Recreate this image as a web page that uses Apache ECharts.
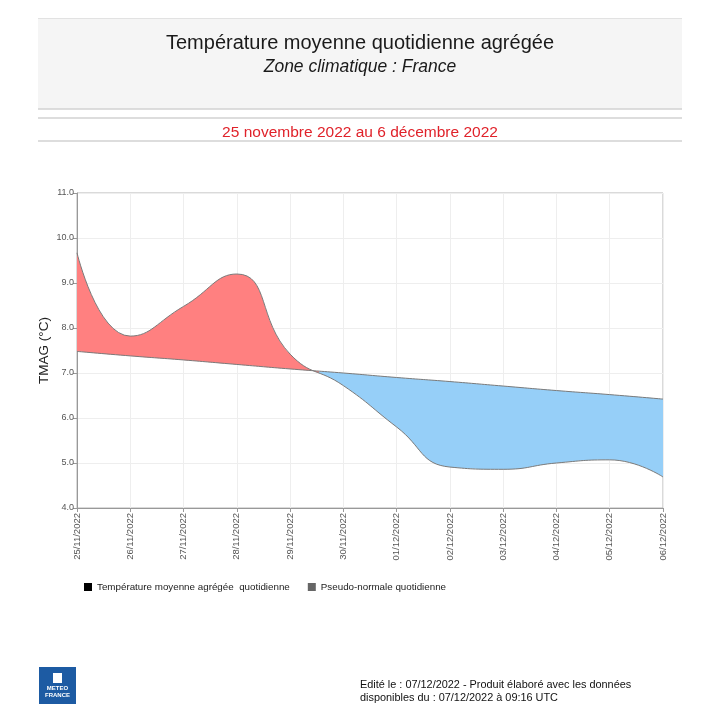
<!DOCTYPE html>
<html>
<head>
<meta charset="utf-8">
<script src="https://cdn.jsdelivr.net/npm/echarts@6/dist/echarts.min.js"></script>
<style>
html,body{margin:0;padding:0;background:#fff;}
#chart{width:720px;height:720px;}
</style>
</head>
<body>
<div id="chart"></div>
<script>
var dates = ['25/11/2022','26/11/2022','27/11/2022','28/11/2022','29/11/2022','30/11/2022','01/12/2022','02/12/2022','03/12/2022','04/12/2022','05/12/2022','06/12/2022'];
var temperature = [9.67, 7.82, 8.48, 9.20, 7.42, 6.72, 5.80, 4.91, 4.86, 5.00, 5.07, 4.69];
var normale = [7.48, 7.38, 7.29, 7.19, 7.09, 7.00, 6.90, 6.81, 6.71, 6.61, 6.52, 6.42];
var yTicks = [4, 5, 6, 7, 8, 9, 10, 11];

var nameTemp = 'Température moyenne agrégée  quotidienne';
var nameNorm = 'Pseudo-normale quotidienne';

var diff = temperature.map(function (v, i) { return +(v - normale[i]).toFixed(3); });

// crossing position (fraction of the x extent) for the colour split
var cross = 0.5;
for (var i = 0; i < diff.length - 1; i++) {
  if (diff[i] >= 0 && diff[i + 1] < 0) {
    cross = (i + diff[i] / (diff[i] - diff[i + 1])) / (diff.length - 1);
    break;
  }
}
var RED = '#ff8080', BLUE = '#96cff8';
var fillGrad = new echarts.graphic.LinearGradient(0, 0, 1, 0, [
  { offset: 0, color: RED }, { offset: cross, color: RED },
  { offset: cross, color: BLUE }, { offset: 1, color: BLUE }
]);

var FONT = 'Arial, "Liberation Sans", sans-serif';
var chart = echarts.init(document.getElementById('chart'), null, { renderer: 'canvas' });

var lineY = [109, 118, 141];
var graphics = [
  { type: 'rect', shape: { x: 38, y: 18, width: 644, height: 91 }, style: { fill: '#f5f5f5' }, z: -10 },
  { type: 'line', shape: { x1: 38, y1: 18.5, x2: 682, y2: 18.5 }, style: { stroke: '#e2e2e2', lineWidth: 1 } }
];
lineY.forEach(function (y) {
  graphics.push({ type: 'line', shape: { x1: 38, y1: y, x2: 682, y2: y }, style: { stroke: '#d2d2d2', lineWidth: 1.6 } });
});
graphics.push(
  { type: 'group', left: 39, top: 667, children: [
    { type: 'rect', shape: { x: 0, y: 0, width: 37, height: 37 }, style: { fill: '#1d5ba3' } },
    { type: 'rect', shape: { x: 14, y: 6, width: 9, height: 10 }, style: { fill: '#ffffff' } },
    { type: 'text', style: { x: 18.5, y: 18, text: 'METEO\nFRANCE', font: 'bold 6px ' + FONT, fill: '#ffffff', textAlign: 'center', lineHeight: 7 } }
  ] },
  { type: 'text', left: 360, top: 678, style: { text: 'Edité le : 07/12/2022 - Produit élaboré avec les données\ndisponibles du : 07/12/2022 à 09:16 UTC', font: '10.9px ' + FONT, fill: '#111', lineHeight: 13 } }
);

var option = {
  animation: false,
  backgroundColor: '#ffffff',
  textStyle: { fontFamily: FONT },
  title: [
    { text: 'Température moyenne quotidienne agrégée', left: 'center', top: 28, textStyle: { fontSize: 20, fontWeight: 'normal', color: '#1a1a1a', fontFamily: FONT } },
    { text: 'Zone climatique : France', left: 'center', top: 53, textStyle: { fontSize: 17.5, fontStyle: 'italic', fontWeight: 'normal', color: '#1a1a1a', fontFamily: FONT } },
    { text: '25 novembre 2022 au 6 décembre 2022', left: 'center', top: 120, textStyle: { fontSize: 15.5, fontWeight: 'normal', color: '#e0222a', fontFamily: FONT } }
  ],
  graphic: graphics,
  legend: {
    left: 79, top: 577,
    itemWidth: 8, itemHeight: 8, itemGap: 18,
    icon: 'rect',
    textStyle: { fontSize: 9.8, color: '#222', fontFamily: FONT },
    data: [
      { name: nameTemp, itemStyle: { color: '#000000' } },
      { name: nameNorm, itemStyle: { color: '#666666' } }
    ]
  },
  grid: { left: 77, right: 57, top: 193, bottom: 212, show: true, borderColor: '#b5b5b5', borderWidth: 1, containLabel: false },
  xAxis: {
    type: 'category',
    data: dates,
    boundaryGap: false,
    axisLine: { lineStyle: { color: '#999' } },
    axisTick: { show: true, length: 4, lineStyle: { color: '#999' } },
    axisLabel: { rotate: 90, fontSize: 9.5, color: '#555', margin: 5, interval: 0, fontFamily: FONT },
    splitLine: { show: true, lineStyle: { color: '#eeeeee' } }
  },
  yAxis: {
    type: 'value',
    min: yTicks[0], max: yTicks[yTicks.length - 1], interval: 1,
    name: 'TMAG (°C)', nameLocation: 'middle', nameGap: 26, nameMoveOverlap: false,
    nameTextStyle: { fontSize: 13.5, color: '#222', fontFamily: FONT },
    axisLine: { show: true, lineStyle: { color: '#999' } },
    axisTick: { show: true, length: 4, lineStyle: { color: '#999' } },
    axisLabel: { fontSize: 9, color: '#555', margin: 3, formatter: function (v) { return v.toFixed(1); }, fontFamily: FONT },
    splitLine: { show: true, lineStyle: { color: '#eeeeee' } }
  },
  series: [
    {
      name: nameNorm, type: 'line', stack: 'band', stackStrategy: 'all',
      data: normale, smooth: 0.5, showSymbol: false, symbol: 'none',
      color: '#666666',
      lineStyle: { color: '#7a7a7a', width: 1 },
      z: 4
    },
    {
      name: nameTemp, type: 'line', stack: 'band', stackStrategy: 'all',
      data: diff, smooth: 0.5, showSymbol: false, symbol: 'none',
      color: '#000000',
      lineStyle: { color: '#7a7a7a', width: 1 },
      areaStyle: { color: fillGrad, opacity: 1 },
      z: 3
    }
  ]
};
chart.setOption(option);
</script>
</body>
</html>
